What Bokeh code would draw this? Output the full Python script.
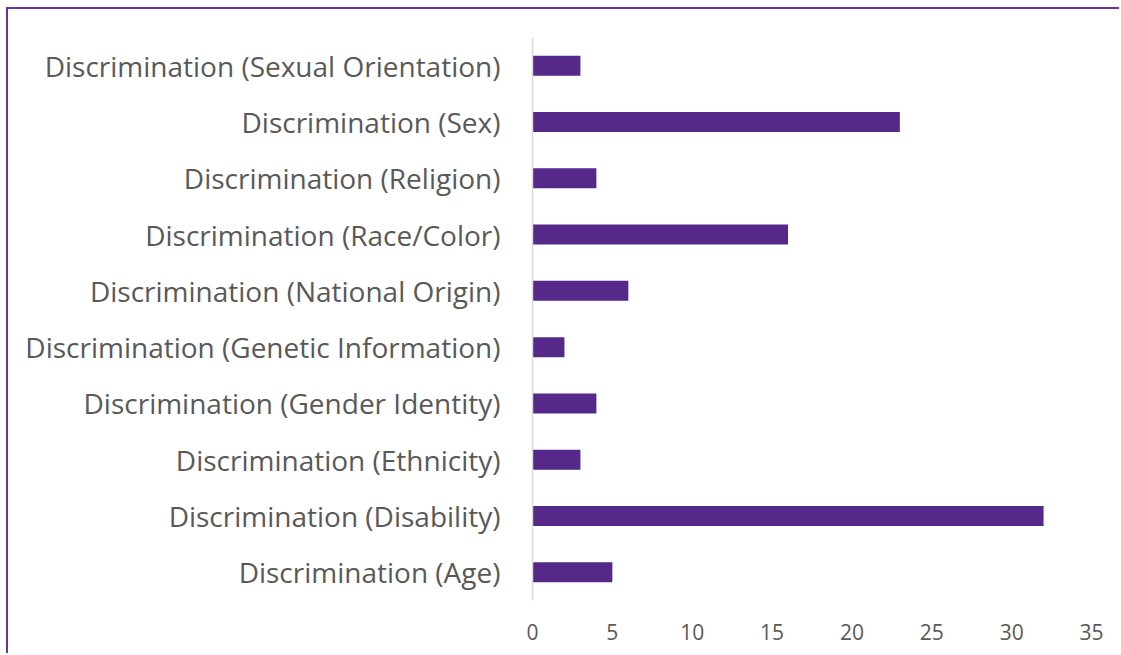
from bokeh.plotting import figure
from bokeh.embed import file_html
from bokeh.resources import INLINE
from bokeh.models import ColumnDataSource, Range1d, FixedTicker

categories = [
    "Discrimination (Age)",
    "Discrimination (Disability)",
    "Discrimination (Ethnicity)",
    "Discrimination (Gender Identity)",
    "Discrimination (Genetic Information)",
    "Discrimination (National Origin)",
    "Discrimination (Race/Color)",
    "Discrimination (Religion)",
    "Discrimination (Sex)",
    "Discrimination (Sexual Orientation)",
]
counts = [5, 32, 3, 4, 2, 6, 16, 4, 23, 3]
x_ticks = [0, 5, 10, 15, 20, 25, 30, 35]

src = ColumnDataSource(dict(cat=categories, val=counts))

p = figure(
    y_range=categories,
    x_range=Range1d(0, 35),
    width=1113, height=646,
    output_backend="svg", toolbar_location=None,
    min_border_left=524, min_border_right=30,
    min_border_top=28, min_border_bottom=55,
)
p.y_range.range_padding = 0
p.hbar(y="cat", right="val", left=0, height=0.355, source=src,
       fill_color="#56288A", line_color=None)

p.outline_line_color = None
p.xgrid.grid_line_color = None
p.ygrid.grid_line_color = None

p.xaxis.ticker = FixedTicker(ticks=x_ticks)
p.xaxis.axis_line_color = None
p.xaxis.major_tick_line_color = None
p.xaxis.minor_tick_line_color = None
p.xaxis.major_label_text_font = "Open Sans"
p.xaxis.major_label_text_font_size = "21px"
p.xaxis.major_label_text_color = "#595959"
p.xaxis.major_label_standoff = 17

p.yaxis.axis_line_color = "#D9D9D9"
p.yaxis.axis_line_width = 1.5
p.yaxis.major_tick_line_color = None
p.yaxis.minor_tick_line_color = None
p.yaxis.major_label_text_font = "Open Sans"
p.yaxis.major_label_text_font_size = "28px"
p.yaxis.major_label_text_color = "#595959"
p.yaxis.major_label_standoff = 26

p.styles = {"border-left": "2px solid #7030A0", "border-top": "2px solid #7030A0",
            "margin-left": "6px", "margin-top": "7px"}

open("out.html", "w").write(file_html(p, INLINE))
